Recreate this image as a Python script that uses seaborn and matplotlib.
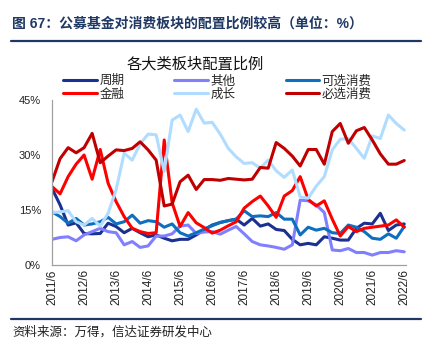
import pandas as pd
import matplotlib
matplotlib.use("Agg")
import matplotlib.pyplot as plt
import seaborn as sns

# =========================
# DATA (quarterly, 2011/6 - 2022/6, %)
# =========================

quarters = pd.date_range("2011-06-30", periods=45, freq="QE")
tick_labels = ["2011/6", "2012/6", "2013/6", "2014/6", "2015/6", "2016/6",
               "2017/6", "2018/6", "2019/6", "2020/6", "2021/6", "2022/6"]

zhouqi = [20.9, 16.4, 10.9, 11.5, 8.6, 8.5, 8.6, 11.4, 10.5, 8.8, 10.0, 8.8,
          7.7, 8.2, 7.3, 6.6, 7.0, 7.0, 8.2, 9.6, 10.9, 11.6, 12.1, 12.5,
          10.9, 12.7, 10.6, 11.2, 9.7, 9.4, 7.0, 5.5, 5.9, 5.5, 7.7, 7.3,
          6.8, 6.8, 10.0, 11.4, 11.2, 14.1, 9.4, 10.9, 11.2]
qita = [7.0, 7.5, 7.7, 6.6, 8.2, 9.1, 10.0, 9.1, 8.8, 5.5, 6.4, 4.8,
        5.2, 7.9, 7.9, 8.5, 10.6, 10.9, 8.6, 9.0, 9.1, 8.4, 9.5, 10.5,
        8.5, 6.4, 5.5, 5.2, 4.8, 4.3, 5.5, 17.7, 17.5, 16.4, 14.3, 4.1,
        3.9, 4.5, 3.4, 3.4, 2.7, 3.4, 3.4, 3.9, 3.6]
kexuan = [14.5, 13.2, 11.4, 12.7, 10.9, 11.2, 11.8, 13.0, 11.2, 11.8, 13.6, 11.4,
          12.1, 11.8, 10.3, 11.2, 8.8, 7.9, 8.8, 9.8, 10.7, 11.6, 12.1, 12.5,
          14.8, 13.2, 13.4, 13.2, 14.3, 12.5, 12.5, 8.2, 10.3, 9.5, 10.0, 8.8,
          8.6, 10.9, 10.3, 9.1, 7.3, 7.0, 8.5, 7.3, 10.5]
jinrong = [21.4, 19.4, 24.1, 27.5, 30.0, 23.4, 31.5, 22.3, 17.3, 13.2, 10.0, 9.1,
           8.6, 8.8, 34.1, 17.0, 10.5, 14.3, 11.5, 10.2, 8.7, 9.5, 10.7, 11.8,
           15.5, 17.3, 18.8, 16.1, 13.0, 18.8, 20.3, 24.1, 17.9, 16.1, 17.5, 12.5,
           7.9, 10.5, 9.1, 10.0, 10.3, 10.6, 10.9, 12.3, 10.3]
chengzhang = [14.3, 14.5, 14.8, 11.8, 10.9, 12.7, 10.6, 14.1, 20.5, 30.5, 28.6, 33.0,
              35.7, 35.5, 25.5, 39.5, 40.9, 36.4, 42.5, 38.7, 38.9, 35.7, 31.8, 29.5,
              27.7, 27.9, 26.4, 28.6, 25.7, 23.9, 25.9, 18.6, 18.2, 21.5, 24.1, 31.4,
              34.3, 34.5, 31.8, 29.1, 35.2, 34.5, 40.9, 38.6, 36.8]
bixuan = [22.7, 29.0, 32.0, 30.6, 32.0, 35.9, 27.9, 29.7, 31.4, 31.2, 31.8, 33.6,
          31.4, 28.6, 16.1, 16.6, 22.7, 24.5, 20.6, 23.3, 23.3, 23.1, 23.6, 23.4,
          23.2, 23.4, 26.6, 26.4, 33.4, 31.8, 29.7, 27.0, 31.5, 31.5, 27.5, 36.4,
          38.6, 33.2, 36.6, 37.5, 34.1, 30.3, 27.5, 27.5, 28.5]

series_names = ["周期", "其他", "可选消费", "金融", "成长", "必选消费"]
series_colors = ["#1B3191", "#8080FF", "#0F6FBF", "#FF0000", "#B0DCFF", "#C00000"]

df = pd.DataFrame({
    "date": quarters,
    "周期": zhouqi,
    "其他": qita,
    "可选消费": kexuan,
    "金融": jinrong,
    "成长": chengzhang,
    "必选消费": bixuan,
})
long_df = df.melt(id_vars="date", var_name="series", value_name="value")

# =========================
# PLOT
# =========================

sns.set_style("white")
plt.rcParams["font.family"] = ["Liberation Sans", "Noto Sans CJK SC", "DejaVu Sans"]

fig = plt.figure(figsize=(4.29, 3.52), dpi=100)
ax = fig.add_axes([52 / 429, 1 - 265 / 352, 354 / 429, 165 / 352])

sns.lineplot(
    data=long_df,
    x="date",
    y="value",
    hue="series",
    hue_order=series_names,
    palette=series_colors,
    linewidth=2.2,
    legend=False,
    ax=ax,
)

ax.set_ylim(0, 45)
ax.set_yticks([0, 15, 30, 45])
ax.set_yticklabels(["0%", "15%", "30%", "45%"], fontsize=8)
ax.set_xlim(quarters[0], quarters[-1] + pd.Timedelta(days=20))
ax.set_xticks(quarters[::4])
ax.set_xticklabels(tick_labels, rotation=90, fontsize=8.5)
ax.set_xlabel("")
ax.set_ylabel("")
ax.tick_params(axis="both", direction="in", length=3, width=0.8,
               color="#A0A0A0", pad=3, labelcolor="#222222")
ax.tick_params(axis="y", pad=8)

for side in ["top", "right"]:
    ax.spines[side].set_visible(False)
for side in ["left", "bottom"]:
    ax.spines[side].set_color("#A0A0A0")
    ax.spines[side].set_linewidth(0.9)

# legend: 3 columns, row-major as in the source chart
lines = ax.get_lines()[:6]
order = [0, 3, 1, 4, 2, 5]
fig.legend(
    [lines[i] for i in order],
    [series_names[i] for i in order],
    ncol=3,
    loc="center left",
    bbox_to_anchor=(63 / 429, 1 - 88 / 352),
    frameon=False,
    fontsize=9,
    handlelength=2.7,
    handletextpad=0.2,
    columnspacing=4.0,
    labelspacing=0.1,
    borderpad=0,
    borderaxespad=0,
)

# chart title
fig.text(195 / 429, 1 - 64 / 352, "各大类板块配置比例", ha="center", va="center",
         fontsize=11, color="#111111")

# report header and footer
fig.text(12 / 429, 1 - 24 / 352, "图 67：公募基金对消费板块的配置比例较高（单位：%）",
         ha="left", va="center", fontsize=10, fontweight="bold", color="#1F3864")
fig.add_artist(plt.Line2D([11 / 429, 421 / 429], [1 - 40.5 / 352, 1 - 40.5 / 352],
                          color="#1F3864", linewidth=1.6))
fig.add_artist(plt.Line2D([11 / 429, 421 / 429], [1 - 319 / 352, 1 - 319 / 352],
                          color="#1F3864", linewidth=1.6))
fig.text(12 / 429, 1 - 332 / 352, "资料来源：万得，信达证券研发中心",
         ha="left", va="center", fontsize=9, style="italic", color="#222222")

fig.savefig("out.png", dpi=100)
